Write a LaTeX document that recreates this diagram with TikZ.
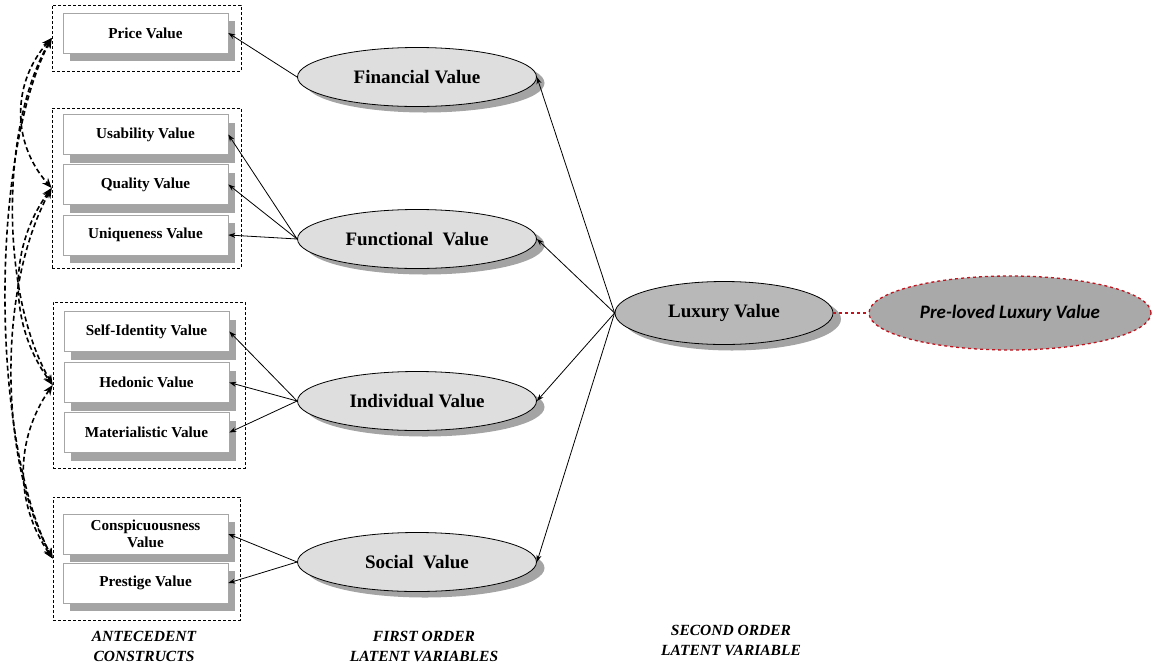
\documentclass[tikz,border=0pt]{standalone}
\usepackage{fontspec}
\setmainfont{Liberation Serif}
\newfontfamily\calibfont{Carlito}
\usetikzlibrary{shapes.geometric,arrows.meta,shadows}

\definecolor{shadowgray}{HTML}{A4A4A4}
\definecolor{lightfill}{HTML}{DEDEDE}
\definecolor{midfill}{HTML}{B8B8B8}
\definecolor{darkfill}{HTML}{A9A9A9}
\definecolor{dashred}{HTML}{C0141E}

\begin{document}
\begin{tikzpicture}[x=1pt,y=-1pt,
  construct/.style={draw=black!35, line width=0.6pt, fill=white,
    minimum width=165pt, minimum height=40pt, inner sep=0pt, align=center,
    font=\fontsize{15.2}{16.5}\selectfont\bfseries,
    drop shadow={shadow xshift=7pt, shadow yshift=-8pt, fill=shadowgray, opacity=1}},
  group/.style={draw, dash pattern=on 3pt off 2pt, line width=0.7pt, inner sep=0pt},
  latent/.style={ellipse, draw, line width=0.8pt, fill=lightfill,
    minimum width=239pt, minimum height=59pt, inner sep=0pt,
    font=\fontsize{19}{20}\selectfont\bfseries,
    drop shadow={shadow xshift=8pt, shadow yshift=-6pt, fill=shadowgray, opacity=1}},
  arr/.style={-{Stealth[length=7pt,width=5pt]}, line width=0.8pt},
  cov/.style={{Stealth[length=10pt,width=8pt]}-{Stealth[length=10pt,width=8pt]},
    line width=1.6pt, dash pattern=on 5pt off 3pt},
  caption/.style={align=center, font=\fontsize{15.5}{20}\selectfont\bfseries\itshape},
]
\useasboundingbox (0,0) rectangle (1154,665);

% dashed frames around the antecedent groups
\node[group, minimum width=189pt, minimum height=66pt]  (g1) at (146.5,38) {};
\node[group, minimum width=189pt, minimum height=160pt] (g2) at (146.5,188) {};
\node[group, minimum width=192pt, minimum height=166pt] (g3) at (149,385) {};
\node[group, minimum width=187pt, minimum height=123pt] (g4) at (146.5,558.5) {};

% antecedent constructs
\node[construct] (price) at (145.5,33)  {Price Value};
\node[construct] (usab)  at (145.5,134.5) {Usability Value};
\node[construct] (qual)  at (145.5,184.5) {Quality Value};
\node[construct] (uniq)  at (145.5,235) {Uniqueness Value};
\node[construct] (self)  at (146.5,331.5) {Self-Identity Value};
\node[construct] (hedo)  at (146.5,382.5) {Hedonic Value};
\node[construct] (mate)  at (146.5,432.5) {Materialistic Value};
\node[construct] (consp) at (145.5,534) {Conspicuousness\\Value};
\node[construct] (prest) at (145.5,583) {Prestige Value};

% first order latent variables
\node[latent] (fin)  at (417,77)  {Financial Value};
\node[latent] (func) at (417,239) {Functional~ Value};
\node[latent] (ind)  at (417,401) {Individual Value};
\node[latent] (soc)  at (417,562) {Social~ Value};

% second order latent variable
\node[latent, fill=midfill, minimum width=218pt, minimum height=63pt] (lux) at (724,313) {Luxury Value};
\node[ellipse, draw=dashred, dashed, line width=1.3pt, fill=darkfill,
      minimum width=282pt, minimum height=74pt, inner sep=0pt,
      font=\fontsize{19}{21}\selectfont\calibfont\bfseries\itshape] (pre) at (1010,313) {Pre-loved Luxury Value};

% paths
\draw[arr] (fin.west) -- (price.east);
\draw[arr] (func.west) -- (usab.east);
\draw[arr] (func.west) -- (qual.east);
\draw[arr] (func.west) -- (uniq.east);
\draw[arr] (ind.west) -- (self.east);
\draw[arr] (ind.west) -- (hedo.east);
\draw[arr] (ind.west) -- (mate.east);
\draw[arr] (soc.west) -- (consp.east);
\draw[arr] (soc.west) -- (prest.east);

\draw[arr] (lux.west) -- (fin.east);
\draw[arr] (lux.west) -- (func.east);
\draw[arr] (lux.west) -- (ind.east);
\draw[arr] (lux.west) -- (soc.east);

\draw[dashred, dashed, line width=1.3pt] (lux.east) -- (pre.west);

% correlations among the antecedent groups
\draw[cov] (g1.west) .. controls +(-40,45)  and +(-40,-45)  .. (g2.west);
\draw[cov] (g1.west) .. controls +(-52,90)  and +(-52,-90)  .. (g3.west);
\draw[cov] (g1.west) .. controls +(-62,120) and +(-62,-120) .. (g4.west);
\draw[cov] (g2.west) .. controls +(-44,60)  and +(-44,-60)  .. (g3.west);
\draw[cov] (g2.west) .. controls +(-54,100) and +(-54,-100) .. (g4.west);
\draw[cov] (g3.west) .. controls +(-38,55)  and +(-38,-55)  .. (g4.west);

% column captions
\node[caption] (cap1) at (144,646.5) {ANTECEDENT\\CONSTRUCTS};
\node[caption] (cap2) at (424,646) {FIRST ORDER\\LATENT VARIABLES};
\node[caption] (cap3) at (731,640) {SECOND ORDER\\LATENT VARIABLE};
\end{tikzpicture}
\end{document}
